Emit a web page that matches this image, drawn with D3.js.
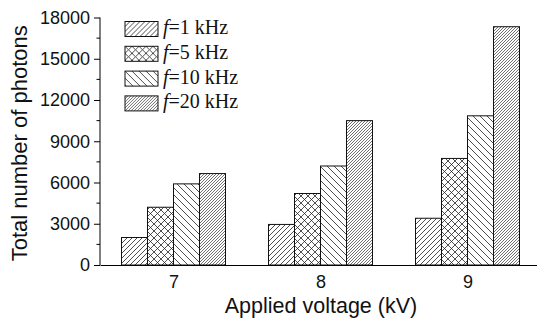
<!DOCTYPE html>
<html>
<head>
<meta charset="utf-8">
<script src="https://cdn.jsdelivr.net/npm/d3@7"></script>
<style>
  html, body { margin: 0; padding: 0; background: #fff; }
  svg { display: block; }
</style>
</head>
<body>
<svg id="chart" width="537" height="320"></svg>
<script>
// Applied voltage (kV) categories
const voltages = [7, 8, 9];
// Pulse frequency series
const frequencies = ["1", "5", "10", "20"];
// Total photon counts per frequency, one value per voltage
const photons1kHz  = [2000, 2950, 3400];
const photons5kHz  = [4200, 5200, 7750];
const photons10kHz = [5900, 7200, 10850];
const photons20kHz = [6650, 10500, 17330];
// Y-axis tick labels
const yTicks = [0, 3000, 6000, 9000, 12000, 15000, 18000];
const yMinorTicks = [1500, 4500, 7500, 10500, 13500, 16500];

const seriesValues = [photons1kHz, photons5kHz, photons10kHz, photons20kHz];

const svg = d3.select("#chart");
const margin = { left: 100, right: 0, top: 17.5, bottom: 55 };
const bottomY = 265;

const x = d3.scaleLinear().domain([6.5, 9.5]).range([100, 541]);
const inner = d3.scaleBand().domain(frequencies).range([-52, 52]).paddingInner(0);
const y = d3.scaleLinear().domain([0, 18000]).range([bottomY, 17.5]);

// Hatch patterns for each frequency
const defs = svg.append("defs");
function hatch(id, size, dirs, color, width) {
  const p = defs.append("pattern")
    .attr("id", id)
    .attr("patternUnits", "userSpaceOnUse")
    .attr("width", size).attr("height", size);
  p.append("rect").attr("width", size).attr("height", size).attr("fill", "#fff");
  const s = size;
  dirs.forEach(d => {
    const path = d === "up"
      ? `M0,${s} L${s},0 M${-s/2},${s/2} L${s/2},${-s/2} M${s/2},${s*1.5} L${s*1.5},${s/2}`
      : `M0,0 L${s},${s} M${-s/2},${s/2} L${s/2},${s*1.5} M${s/2},${-s/2} L${s*1.5},${s/2}`;
    p.append("path").attr("d", path)
      .attr("stroke", color).attr("stroke-width", width).attr("fill", "none");
  });
}
hatch("pat-1", 5, ["up"], "#222", 0.8);
hatch("pat-5", 7, ["up", "down"], "#222", 0.8);
hatch("pat-10", 7, ["down"], "#222", 0.8);
hatch("pat-20", 3, ["up"], "#333", 0.7);

// Bars
const barData = [];
voltages.forEach((v, i) => {
  frequencies.forEach((f, j) => {
    barData.push({ v, f, value: seriesValues[j][i] });
  });
});

svg.append("g").selectAll("rect")
  .data(barData)
  .join("rect")
  .attr("x", d => x(d.v) + inner(d.f))
  .attr("y", d => y(d.value))
  .attr("width", inner.bandwidth())
  .attr("height", d => bottomY - y(d.value))
  .attr("fill", d => `url(#pat-${d.f})`)
  .attr("stroke", "#111")
  .attr("stroke-width", 1);

// Y axis
const yAxis = svg.append("g")
  .attr("transform", `translate(${margin.left},0)`)
  .call(d3.axisLeft(y).tickValues(yTicks).tickSize(6).tickPadding(4).tickFormat(d3.format("d")));
yAxis.select(".domain").attr("d", `M0,${y(18000)}V${bottomY}`).attr("stroke", "#000");
yAxis.selectAll(".tick line").attr("stroke", "#000");
yAxis.selectAll(".tick text")
  .attr("font-family", "'Liberation Sans', Arial, sans-serif")
  .attr("font-size", 18).attr("fill", "#111");
yAxis.selectAll(".minor")
  .data(yMinorTicks)
  .join("line")
  .attr("class", "minor")
  .attr("x1", -3.5).attr("x2", 0)
  .attr("y1", d => y(d)).attr("y2", d => y(d))
  .attr("stroke", "#000");

// X axis
const xAxis = svg.append("g")
  .attr("transform", `translate(0,${bottomY})`)
  .call(d3.axisBottom(x).tickValues(voltages).tickSize(0).tickPadding(10).tickFormat(d3.format("d")));
xAxis.select(".domain").attr("stroke", "#000");
xAxis.selectAll(".tick text")
  .attr("font-family", "'Liberation Sans', Arial, sans-serif")
  .attr("font-size", 18).attr("fill", "#111");

// Axis titles
svg.append("text")
  .attr("x", 321).attr("y", 313)
  .attr("text-anchor", "middle")
  .attr("font-family", "'Liberation Sans', Arial, sans-serif")
  .attr("font-size", 21.5).attr("fill", "#111")
  .text("Applied voltage (kV)");

svg.append("text")
  .attr("transform", `translate(27,${(17.5 + bottomY) / 2 + 2}) rotate(-90)`)
  .attr("text-anchor", "middle")
  .attr("font-family", "'Liberation Sans', Arial, sans-serif")
  .attr("font-size", 22).attr("fill", "#111")
  .text("Total number of photons");

// Legend
const legend = svg.append("g").attr("transform", "translate(125,21.5)");
const rows = legend.selectAll("g")
  .data(frequencies)
  .join("g")
  .attr("transform", (d, i) => `translate(0,${i * 24.8})`);
rows.append("rect")
  .attr("width", 33).attr("height", 15)
  .attr("fill", d => `url(#pat-${d})`)
  .attr("stroke", "#111").attr("stroke-width", 1);
const label = rows.append("text")
  .attr("x", 38).attr("y", 12.5)
  .attr("font-family", "'Liberation Serif', 'Times New Roman', serif")
  .attr("font-size", 20).attr("fill", "#111");
label.append("tspan").attr("font-style", "italic").text("f");
label.append("tspan").text(d => `=${d} kHz`);
</script>
</body>
</html>
